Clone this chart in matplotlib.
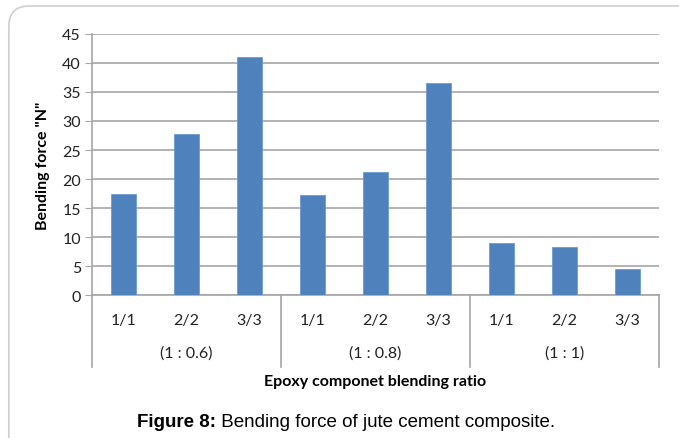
import matplotlib
matplotlib.use("Agg")
from matplotlib import pyplot as plt
from matplotlib.patches import FancyBboxPatch
from matplotlib.transforms import blended_transform_factory
import numpy as np

groups = ["(1 : 0.6)", "(1 : 0.8)", "(1 : 1)"]
sub_labels = ["1/1", "2/2", "3/3"]
values = [17.5, 27.7, 41.1, 17.2, 21.2, 36.5, 9.0, 8.3, 4.5]
y_ticks = [0, 5, 10, 15, 20, 25, 30, 35, 40, 45]

plt.rcParams['font.family'] = ['Lato', 'DejaVu Sans']

fig = plt.figure(figsize=(6.79, 4.39), dpi=100)
ax = fig.add_axes([0.1355, 0.3257, 0.835, 0.5946])

# outer frame with rounded top-left corner
frame = FancyBboxPatch((0.013, -0.2), 1.2, 1.184, boxstyle="round,pad=0,rounding_size=0.03",
                       transform=fig.transFigure, fill=False, edgecolor='#cfcfcf', linewidth=1.2,
                       mutation_aspect=679 / 439)
fig.patches.append(frame)

x = np.arange(len(values))
ax.bar(x, values, width=0.4, color='#4f81bd', edgecolor='#6f9bd0', linewidth=0.6, zorder=3)

ax.set_xlim(-0.5, len(values) - 0.5)
ax.set_ylim(0, 45)
ax.set_yticks(y_ticks)
ax.yaxis.grid(True, color='#a6a6a6', linewidth=1.2, zorder=0)
ax.tick_params(axis='y', length=5, color='#a6a6a6', labelsize=11.5, pad=3, labelcolor='#222222')
ax.tick_params(axis='x', length=0, labelsize=11.5, pad=13, labelcolor='#222222')
ax.set_xticks(x)
ax.set_xticklabels(sub_labels * len(groups))
for s in ['top', 'right']:
    ax.spines[s].set_visible(False)
ax.spines['left'].set_color('#a6a6a6')
ax.spines['bottom'].set_color('#a6a6a6')
ax.spines['left'].set_linewidth(1.2)
ax.spines['bottom'].set_linewidth(1.2)

trans = blended_transform_factory(ax.transData, ax.transAxes)
n_sub = len(sub_labels)
for i, g in enumerate(groups):
    center = i * n_sub + (n_sub - 1) / 2
    ax.text(center, -0.222, g, transform=trans, ha='center', va='center', fontsize=11.5, color='#222222')
for i in range(len(groups) + 1):
    xd = i * n_sub - 0.5
    ax.plot([xd, xd], [0, -0.276], transform=trans, color='#a6a6a6', linewidth=1.2, clip_on=False)

ax.set_ylabel('Bending force "N"', fontsize=11.5, fontweight='bold', labelpad=9)
ax.text(0.5, -0.33, 'Epoxy componet blending ratio', transform=ax.transAxes, ha='center', va='center',
        fontsize=11.5, fontweight='bold')

# caption: bold prefix followed by regular text, centred as a whole
cap_y = 0.038
t1 = fig.text(0, cap_y, 'Figure 8:', ha='left', va='center', fontsize=13.5, fontweight='bold',
              family='Liberation Sans')
t2 = fig.text(0, cap_y, ' Bending force of jute cement composite.', ha='left', va='center',
              fontsize=13.5, family='Liberation Sans')
fig.canvas.draw()
w1 = t1.get_window_extent().width / fig.bbox.width
w2 = t2.get_window_extent().width / fig.bbox.width
start = 0.509 - (w1 + w2) / 2
t1.set_x(start)
t2.set_x(start + w1)

fig.savefig('out.png', dpi=100)
